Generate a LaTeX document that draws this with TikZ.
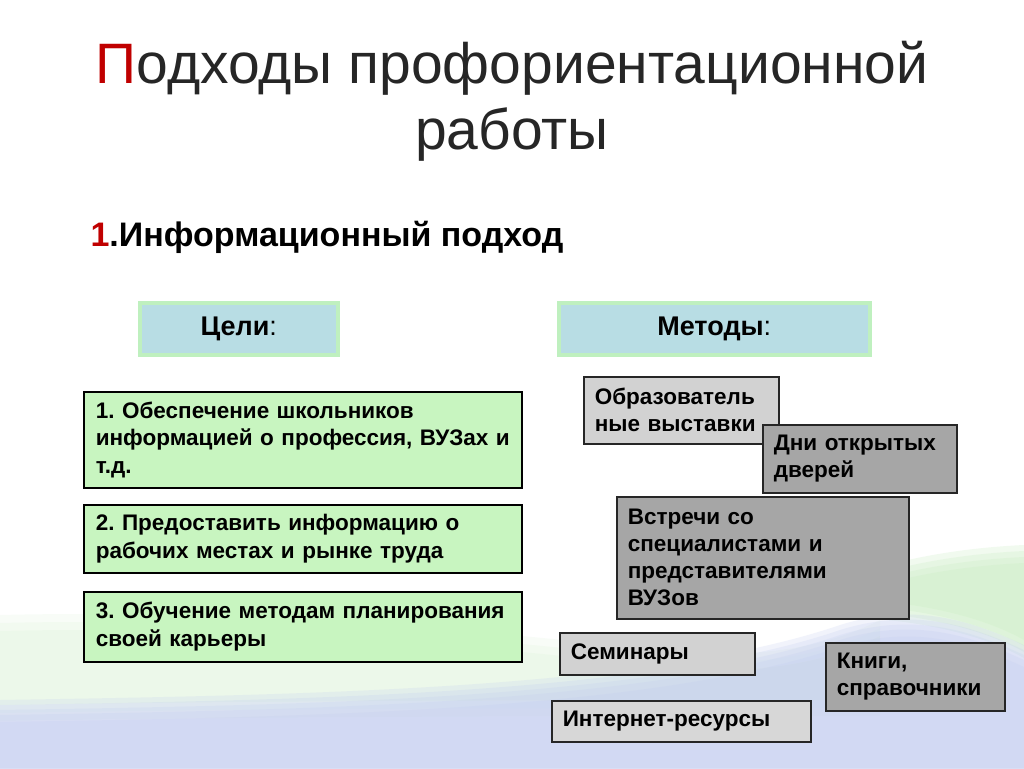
\documentclass[tikz,border=0pt]{standalone}
\usepackage{fontspec}
\setmainfont{Liberation Sans}
\frenchspacing
\definecolor{titlered}{HTML}{C00000}
\definecolor{titlegray}{HTML}{262626}
\definecolor{headfill}{HTML}{B8DDE4}
\definecolor{headborder}{HTML}{BFF0BF}
\definecolor{goalfill}{HTML}{C8F5C0}
\definecolor{lightg}{HTML}{D2D2D2}
\definecolor{darkg}{HTML}{A6A6A6}
\definecolor{bgblue}{HTML}{C2CCF0}
\definecolor{bggreen}{HTML}{C8EEC0}
\tikzset{
  x=1pt,y=-1pt,
  headbox/.style={draw=headborder,line width=3.5pt,fill=headfill,anchor=north west,inner sep=0pt,
    font=\fontsize{27}{32}\selectfont},
  goalbox/.style={draw=black,line width=1.6pt,fill=goalfill,anchor=north west,inner xsep=12pt,inner ysep=0pt,
    align=left,font=\fontsize{22.5}{27.5}\selectfont\bfseries},
  methbox/.style={draw=black!85,line width=1.6pt,anchor=north west,inner xsep=11pt,inner ysep=0pt,
    align=left,font=\fontsize{22.5}{27}\selectfont\bfseries},
  bgband/.style={fill=#1,draw=none,fill opacity=0.22},
}
\begin{document}
\begin{tikzpicture}
\useasboundingbox (0,0) rectangle (1024,768);
\fill[white] (0,0) rectangle (1024,768);
% background: faint green swoosh on the left
\foreach \d in {0,8,16} {
  \fill[bgband=bggreen,fill opacity=0.12,shift={(0,\d)}] (0,615) .. controls (200,610) and (450,625) .. (650,650) .. controls (750,660) and (820,650) .. (880,620) -- (880,700) .. controls (600,700) and (300,700) .. (0,705) -- cycle;
}
% green swoosh on the right
\foreach \d in {0,6,12,18} {
  \fill[bgband=bggreen,fill opacity=0.25,shift={(0,\d)}] (800,600) .. controls (870,560) and (960,548) .. (1024,545) -- (1024,640) .. controls (980,615) and (900,595) .. (800,600) -- cycle;
}
% lavender region at the bottom
\foreach \d in {0,5,10,15,22} {
  \fill[bgband=bgblue,shift={(0,\d)}] (0,768) -- (0,700) .. controls (300,695) and (650,690) .. (840,625) .. controls (920,600) and (980,625) .. (1024,645) -- (1024,768) -- cycle;
}

% title
\node[font=\fontsize{57}{66}\selectfont,text=titlegray,align=center] (title) at (512,101)
  {\textcolor{titlered}{П}одходы профориентационной\\работы};
\node[font=\fontsize{34}{40}\selectfont\bfseries,text=black,anchor=base west] (sub) at (87,246)
  {\textcolor{titlered}{1}.Информационный подход};

% headers
\node[headbox,minimum width=198pt,minimum height=52pt] (goals) at (138,301) {\textbf{Цели}:};
\node[headbox,minimum width=311pt,minimum height=52pt] (methods) at (557,301) {\textbf{Методы}:};

% goals
\node[goalbox,minimum width=438pt,minimum height=96pt,text width=414pt] (g1) at (83,391)
  {\mbox{1. Обеспечение школьников}\\\mbox{информацией о профессия, ВУЗах и}\\т.д.};
\node[goalbox,minimum width=438pt,minimum height=68pt,text width=414pt] (g2) at (83,504)
  {\mbox{2. Предоставить информацию о}\\\mbox{рабочих местах и рынке труда}};
\node[goalbox,minimum width=438pt,minimum height=70pt,text width=414pt] (g3) at (83,591)
  {\mbox{3. Обучение методам планирования}\\своей карьеры\\[6pt]};

% methods
\node[methbox,fill=lightg,minimum width=195pt,minimum height=67pt,text width=173pt] (m1) at (583,376)
  {\mbox{Образователь}\\\mbox{ные выставки}};
\node[methbox,fill=darkg,minimum width=194pt,minimum height=68pt,text width=172pt] (m2) at (762,424)
  {\mbox{Дни открытых}\\дверей};
\node[methbox,fill=darkg,minimum width=292pt,minimum height=122pt,text width=270pt] (m3) at (616,496)
  {Встречи со\\специалистами и\\представителями\\ВУЗов};
\node[methbox,fill=lightg,minimum width=195pt,minimum height=42pt,text width=173pt] (m4) at (559,632)
  {Семинары};
\node[methbox,fill=darkg,minimum width=179pt,minimum height=68pt,text width=157pt] (m5) at (825,642)
  {Книги,\\\mbox{справочники}};
\node[methbox,fill=lightg!90!white,minimum width=259pt,minimum height=41pt,text width=237pt] (m6) at (551,700)
  {\mbox{Интернет-ресурсы}};
\end{tikzpicture}
\end{document}
